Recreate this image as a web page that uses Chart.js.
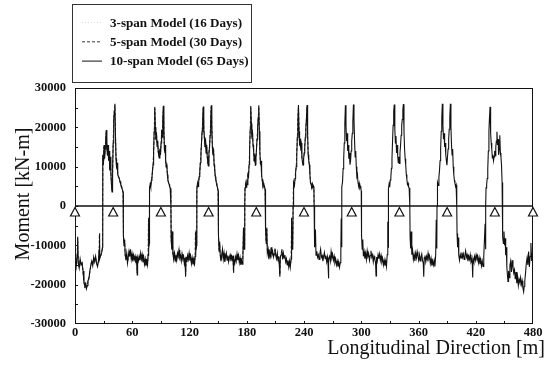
<!DOCTYPE html>
<html>
<head>
<meta charset="utf-8">
<script src="https://cdn.jsdelivr.net/npm/chart.js@4.4.1/dist/chart.umd.min.js"></script>
<style>
  html, body { margin: 0; padding: 0; background: #fff; }
  canvas { display: block; }
</style>
</head>
<body>
<canvas id="moment" width="557" height="369"></canvas>
<script>
/* Moment distribution along the deck, 10 spans (480 m).
   Three models overlaid; supports marked with triangles. */

const LABELS = ['3-span Model (16 Days)', '5-span Model (30 Days)', '10-span Model (65 Days)'];
const SUPPORTS = [0, 40, 90, 140, 190, 240, 290, 340, 390, 440, 480];

// stations along the deck [m]
const POS = [
  // 0 - 29
  0, 0.2, 1.2, 2.2, 2.8, 3.4, 4.4, 5.4, 6.4, 7.4, 8.4, 9.4, 10.4, 11.2, 12.0, 12.8, 13.6, 14.6, 15.6, 16.6,
  17.6, 18.6, 19.6, 20.6, 21.6, 22.6, 23.6, 24.6, 25.3, 25.6, 26.0, 27.0, 28.0, 28.8,
  // pier 40
  29.0, 29.2, 29.8, 30.4, 31.0, 31.6, 32.2, 32.8, 33.4, 34.0, 34.6, 35.2, 35.8, 36.4, 37.0, 37.6, 38.2, 38.8,
  39.4, 40.0, 40.6, 41.2, 41.8, 42.4, 43.0, 43.6, 44.2, 44.8, 45.6, 46.4, 47.2, 48.0, 48.8, 49.6, 50.4, 50.6,
  // span 40-90
  50.8, 51.4, 52.0, 52.6, 53.4, 54.2, 55.0, 55.8, 56.6, 57.4, 58.2, 59.0, 59.8, 60.6, 61.4, 62.2, 63.0, 63.8,
  64.6, 65.2, 65.6, 66.4, 67.2, 68.0, 68.8, 69.6, 70.4, 71.2, 72.0, 72.8, 73.6, 74.4, 75.2, 76.0, 76.6, 77.0, 77.4, 77.8,
  // pier 90
  78.0, 78.2, 78.8, 79.4, 80.0, 80.6, 81.2, 81.8, 82.4, 83.0, 83.6, 84.2, 84.8, 85.4, 86.0, 86.6, 87.2, 87.8,
  88.4, 89.0, 89.6, 90.2, 90.8, 91.4, 92.0, 92.6, 93.2, 93.8, 94.4, 95.0, 95.6, 96.2, 96.8, 97.4, 98.0, 98.6,
  99.2, 99.8, 100.4, 100.6,
  // span 90-140
  100.8, 101.4, 102.0, 102.6, 103.4, 104.2, 105.0, 105.8, 106.6, 107.4, 108.2, 109.0, 109.8, 110.6, 111.4,
  112.2, 113.0, 113.8, 114.6, 115.4, 115.9, 116.4, 117.2, 118.0, 118.8, 119.6, 120.4, 121.2, 122.0, 122.8,
  123.6, 124.4, 125.2, 125.8, 126.2, 126.8, 127.4,
  // pier 140
  127.6, 127.8, 128.4, 129.0, 129.6, 130.2, 130.8, 131.4, 132.0, 132.6, 133.2, 133.8, 134.4, 135.0, 135.6,
  136.2, 136.8, 137.4, 138.0, 138.6, 139.2, 139.8, 140.4, 141.0, 141.6, 142.2, 142.8, 143.4, 144.0, 144.6,
  145.2, 145.8, 146.4, 147.0, 147.6, 148.2, 148.8, 149.4, 150.0, 150.2,
  // span 140-190
  150.4, 151.0, 151.6, 152.2, 153.0, 153.8, 154.6, 155.4, 156.2, 157.0, 157.8, 158.6, 159.4, 160.2, 161.0,
  161.8, 162.6, 163.4, 164.2, 165.0, 165.6, 166.0, 166.6, 167.4, 168.2, 169.0, 169.8, 170.6, 171.4, 172.2,
  173.0, 173.8, 174.6, 175.4, 176.0, 176.6, 177.2, 177.8,
  // pier 190
  178.0, 178.2, 178.8, 179.4, 180.0, 180.6, 181.2, 181.8, 182.4, 183.0, 183.6, 184.2, 184.8, 185.4, 186.0,
  186.6, 187.2, 187.8, 188.4, 189.0, 189.6, 190.2, 190.8, 191.4, 192.0, 192.6, 193.2, 193.8, 194.4, 195.0,
  195.6, 196.2, 196.8, 197.4, 198.0, 198.6, 199.2, 199.6,
  // span 190-240
  199.8, 200.4, 201.0, 201.6, 202.4, 203.2, 204.0, 204.8, 205.6, 206.4, 207.2, 208.0, 208.8, 209.6, 210.4,
  211.2, 212.0, 212.8, 213.6, 214.2, 214.7, 215.2, 216.0, 216.8, 217.6, 218.4, 219.2, 220.0, 220.8, 221.6,
  222.4, 223.2, 224.0, 224.8, 225.6, 226.4, 227.0, 227.6, 228.2,
  // pier 240
  228.6, 228.8, 229.4, 230.0, 230.6, 231.2, 231.8, 232.4, 233.0, 233.6, 234.2, 234.8, 235.4, 236.0, 236.6,
  237.2, 237.8, 238.4, 239.0, 239.6, 240.2, 240.8, 241.4, 242.0, 242.6, 243.2, 243.8, 244.4, 245.0, 245.6,
  246.2, 246.8, 247.4, 248.0, 248.6, 249.2, 249.8, 250.4, 250.6,
  // span 240-290
  250.8, 251.4, 252.0, 252.6, 253.4, 254.2, 255.0, 255.8, 256.6, 257.4, 258.2, 259.0, 259.8, 260.6, 261.4,
  262.2, 263.0, 263.8, 264.6, 265.2, 265.6, 266.0, 266.8, 267.6, 268.4, 269.2, 270.0, 270.8, 271.6, 272.4,
  273.2, 274.0, 274.8, 275.6, 276.4, 277.2, 278.0, 278.6, 279.0, 279.4,
  // pier 290
  279.6, 279.8, 280.4, 281.0, 281.6, 282.2, 282.8, 283.4, 284.0, 284.6, 285.2, 285.8, 286.4, 287.0, 287.6,
  288.2, 288.8, 289.4, 290.0, 290.6, 291.2, 291.8, 292.4, 293.0, 293.6, 294.2, 294.8, 295.4, 296.0, 296.6,
  297.2, 297.8, 298.4, 299.0, 299.6, 300.0, 300.2,
  // span 290-340
  300.4, 301.0, 301.6, 302.2, 303.0, 303.8, 304.6, 305.4, 306.2, 307.0, 307.8, 308.6, 309.4, 310.2, 311.0,
  311.8, 312.6, 313.4, 314.2, 315.0, 315.5, 316.0, 316.8, 317.6, 318.4, 319.2, 320.0, 320.8, 321.6, 322.4,
  323.2, 324.0, 324.8, 325.6, 326.4, 327.2, 327.8, 328.2,
  // pier 340
  328.4, 328.6, 329.2, 329.8, 330.4, 331.0, 331.6, 332.2, 332.8, 333.4, 334.0, 334.6, 335.2, 335.8, 336.4,
  337.0, 337.6, 338.2, 338.8, 339.4, 340.0, 340.6, 341.2, 341.8, 342.4, 343.0, 343.6, 344.2, 344.8, 345.4,
  346.0, 346.6, 347.2, 347.8, 348.4, 349.0, 349.6, 350.2, 350.8, 351.0,
  // span 340-390
  351.2, 351.8, 352.4, 353.0, 353.8, 354.6, 355.4, 356.2, 357.0, 357.8, 358.6, 359.4, 360.2, 361.0, 361.8,
  362.6, 363.4, 364.2, 365.0, 365.5, 366.0, 366.8, 367.6, 368.4, 369.2, 370.0, 370.8, 371.6, 372.4, 373.2,
  374.0, 374.8, 375.6, 376.4, 377.2, 378.0, 378.6, 379.2,
  // pier 390
  379.4, 379.6, 380.2, 380.8, 381.4, 382.0, 382.6, 383.2, 383.8, 384.4, 385.0, 385.6, 386.2, 386.8, 387.4,
  388.0, 388.6, 389.2, 389.8, 390.4, 391.0, 391.6, 392.2, 392.8, 393.4, 394.0, 394.6, 395.2, 395.8, 396.4,
  397.0, 397.6, 398.2, 398.8, 399.4, 400.0, 400.2,
  // span 390-440
  400.4, 401.0, 401.6, 402.2, 403.0, 403.8, 404.6, 405.4, 406.2, 407.0, 407.8, 408.6, 409.4, 410.2, 411.0,
  411.8, 412.6, 413.4, 414.2, 415.0, 415.8, 416.4, 416.8, 417.2, 418.0, 418.8, 419.6, 420.4, 421.2, 422.0,
  422.8, 423.6, 424.4, 425.2, 426.0, 426.8, 427.6, 428.4, 429.2, 429.8, 430.2,
  // pier 440
  430.6, 430.8, 431.4, 432.0, 432.6, 433.2, 433.8, 434.4, 435.0, 435.6, 436.2, 436.8, 437.4, 438.0, 438.6,
  439.2, 439.8, 440.4, 441.0, 441.6, 442.2, 442.8, 443.4, 444.0, 444.6, 445.2, 445.8, 446.4, 447.0, 447.6,
  448.0, 448.2,
  // 448 - 480
  448.4, 449.0, 449.6, 450.2, 450.8, 451.4, 452.0, 452.6, 453.2, 453.8, 454.4, 455.0, 455.8, 456.6, 457.4,
  458.2, 459.0, 459.8, 460.6, 461.4, 462.2, 463.0, 463.8, 464.6, 465.4, 466.2, 467.0, 467.8, 468.6, 469.4,
  470.2, 470.8, 471.4, 472.2, 473.0, 473.8, 474.6, 475.4, 476.2, 477.0, 477.8, 478.6, 479.4, 479.8, 480.0
];

// 10-span model moment [kN-m] at POS
const M10 = [
  0, -14000, -15500, -12500, -7800, -14500, -15800, -13500, -15000, -14500, -16500, -19500, -20500, -19800,
  -21000, -20200, -19000, -18500, -16500, -15000, -14000, -15200, -13000, -14200, -12800, -14600, -15400,
  -14000, -11000, -6900, -13500, -12500, -11800, -10500,

  0, 13000, 10500, 15500, 12000, 14500, 17000, 19300, 15000, 13000, 15500, 11500, 14000, 9000, 12500, 8500,
  5500, 3600, 9000, 16000, 22000, 24000, 26000, 18000, 12000, 9500, 11000, 8000, 7500, 7000, 6200, 5400,
  5000, 4200, 3500, 0,

  -7500, -10000, -8500, -12500, -13500, -12000, -14500, -13000, -11500, -12800, -11000, -13500, -12200,
  -14000, -12500, -13600, -12800, -14500, -13500, -17500, -13200, -14000, -12800, -13800, -12000, -13500,
  -12400, -14200, -13000, -14800, -13500, -15200, -14000, -15000, -12500, -3000, -10500, -9500,

  0, 4500, 5500, 4800, 6500, 7000, 9000, 10500, 14000, 19000, 25200, 20000, 17000, 18500, 15500, 16500,
  14000, 12800, 12200, 14500, 13000, 16000, 19300, 17500, 22000, 25500, 19000, 14000, 15500, 11500, 10000,
  10800, 8000, 6500, 6000, 5500, 5000, 4500, 4000, 0,

  -8500, -11000, -6500, -12000, -13500, -11500, -14000, -12500, -13800, -12000, -12800, -11200, -13200,
  -12600, -14000, -12200, -13400, -12800, -14600, -13200, -18000, -13000, -14200, -12600, -13600, -12000,
  -13800, -12800, -14600, -13200, -14800, -13600, -15200, -12800, -6500, -11500, -10000,

  0, 4200, 5800, 5000, 6200, 7500, 8800, 11000, 13500, 16000, 19000, 21500, 25300, 19500, 17500, 15000,
  17000, 13500, 15500, 12500, 11000, 10200, 13500, 15000, 18000, 21500, 25600, 20000, 15000, 13000, 14500,
  10500, 9500, 7500, 6800, 5800, 5200, 4600, 3800, 0,

  -7000, -11500, -9000, -12500, -14000, -12500, -11000, -13500, -12000, -14200, -13000, -12000, -13800,
  -12600, -14200, -13000, -12400, -14000, -12800, -13600, -12600, -17000, -13400, -14600, -13000, -14000,
  -12200, -13800, -12600, -14400, -13200, -15000, -13800, -14800, -12200, -5500, -11000, -9500,

  0, 4600, 5500, 4800, 6000, 5400, 8500, 7000, 10500, 14500, 19500, 25400, 21000, 17500, 19000, 15500,
  14000, 11500, 13000, 10500, 12000, 14500, 17000, 19800, 22500, 25600, 19000, 13500, 10500, 11500, 7500,
  6800, 5200, 5800, 4800, 5000, 4200, 0,

  -6000, -9500, -5500, -12000, -11000, -13500, -11800, -12800, -10500, -12400, -11600, -13000, -12200,
  -10800, -12600, -13400, -12000, -14000, -12800, -15400, -18000, -13000, -12400, -11000, -13600, -12000,
  -13200, -12500, -14200, -13400, -15000, -13800, -15500, -14000, -15600, -13500, -3000, -11000, -10000,

  0, 4600, 6000, 5200, 7000, 8500, 10000, 13000, 17500, 22000, 25700, 19000, 15500, 17000, 14500, 16000,
  12500, 11000, 10500, 12000, 13500, 15000, 17500, 20000, 22500, 25700, 18000, 13000, 11500, 10500, 8000,
  6000, 5500, 5000, 5600, 4800, 5000, 4400, 0,

  -8000, -10500, -6000, -12500, -11500, -13000, -12400, -13600, -12200, -11000, -13000, -12600, -14000,
  -12800, -11800, -13400, -12600, -14200, -13000, -14800, -18400, -13400, -12800, -14000, -11600, -13200,
  -12400, -13800, -12800, -14400, -13600, -15000, -14000, -15400, -14200, -15600, -14400, -12000, -3200, -10500,

  0, 4800, 6200, 9500, 12000, 16000, 21000, 25600, 20500, 16500, 18500, 14000, 15500, 12000, 13500, 10500,
  11500, 14000, 16500, 18500, 21500, 25800, 22000, 16500, 12500, 14000, 10000, 7500, 8000, 6000, 5200,
  5800, 4600, 5000, 4400, 3800, 0,

  -7500, -11000, -8500, -12800, -11600, -13400, -12000, -13600, -11400, -12800, -12200, -13800, -12600,
  -11400, -13000, -12400, -14200, -12800, -13600, -14400, -17800, -13000, -14000, -12400, -13400, -12200,
  -13800, -12600, -14200, -13400, -15000, -13800, -15200, -14000, -15400, -12400, -4000, -10500,

  0, 4400, 5600, 4800, 6600, 7200, 9600, 12000, 16500, 20500, 24000, 25800, 19500, 16000, 17800, 13500,
  15500, 12800, 11000, 12500, 10800, 13500, 15500, 18000, 20500, 22000, 24500, 25900, 19000, 14500, 12000,
  10500, 8000, 6800, 5500, 5800, 4800, 4600, 4000, 0,

  -8000, -10800, -6500, -12400, -11200, -13600, -12400, -14000, -12000, -13200, -11600, -12800, -13800,
  -12400, -14000, -13000, -12200, -13800, -14600, -18000, -13200, -12600, -14200, -12800, -13600, -12000,
  -13400, -12800, -14600, -13400, -15200, -14000, -15000, -13800, -15400, -12600, -3500, -10800,

  0, 4600, 6000, 5200, 7400, 9000, 11500, 14500, 19000, 22500, 26000, 20500, 17000, 18500, 15000, 16000,
  13000, 11500, 10400, 12500, 14500, 17000, 19500, 22500, 26000, 20000, 15500, 13000, 14500, 10000, 8000,
  6500, 5800, 5000, 5400, 4200, 0,

  -7000, -10500, -8000, -12500, -13800, -12400, -13200, -11800, -13000, -12200, -13600, -12600, -11400,
  -13000, -12400, -14000, -12800, -13600, -12400, -14200, -13600, -14800, -18200, -13400, -14200, -12800,
  -13800, -12400, -13200, -12600, -14400, -13200, -14800, -13600, -15200, -14000, -15400, -12800, -8000,
  -4500, -11000,

  0, 4600, 5400, 7000, 9500, 14000, 19000, 22500, 25200, 18500, 16000, 14500, 12200, 13000, 11500, 12500,
  14000, 12800, 15000, 16500, 18900, 15500, 17000, 13000, 14500, 18000, 13500, 12500, 10500, 6000, 4600, 0,

  -7800, -9500, -6500, -10000, -8200, -12500, -10500, -15500, -17500, -19200, -16500, -18200, -15000,
  -14000, -16800, -13800, -15500, -17000, -16200, -18600, -16800, -19600, -18000, -20200, -18600, -19400,
  -18200, -20000, -19000, -20800, -21800, -20400, -19000, -17000, -14500, -13200, -15000, -11600, -15500,
  -12800, -9400, -14000, -12000, -13500, 0
];

// 5-span model (0 - 250 m) at POS
const M5 = [
  0, -13800, -15200, -12800, -8200, -14800, -15500, -13800, -14800, -14200, -16800, -19200, -20800, -19500,
  -20800, -20500, -18800, -18200, -16800, -15200, -13800, -15000, -13200, -14000, -13000, -14400, -15200,
  -14200, -11200, -7200, -13200, -12800, -11600, -10800,

  0, 12600, 11000, 15000, 12400, 14200, 17400, 19000, 15400, 12800, 15000, 12000, 13600, 9400, 12000, 8800,
  5800, 4000, 8600, 15500, 21500, 24400, 25600, 18500, 12400, 9800, 10600, 8200, 7200, 7200, 6000, 5600,
  4800, 4400, 3400, 0,

  -7800, -9600, -8800, -12200, -13800, -12400, -14200, -13200, -11800, -12600, -11400, -13200, -12400,
  -13800, -12800, -13400, -13000, -14200, -13800, -17000, -13400, -13800, -13000, -13600, -12200, -13200,
  -12600, -14000, -13200, -14600, -13800, -15000, -14200, -14800, -12800, -3600, -10200, -9800,

  0, 4200, 5800, 5000, 6200, 7400, 8600, 11000, 13500, 18500, 24800, 20500, 16600, 18800, 15000, 16800,
  13600, 13200, 12000, 14200, 13400, 15600, 19000, 17800, 21500, 25100, 19400, 13600, 15000, 11800, 9800,
  10400, 8200, 6800, 5800, 5600, 4800, 4600, 3800, 0,

  -8200, -10600, -7000, -12400, -13200, -11800, -13600, -12800, -13500, -12300, -12500, -11500, -13000,
  -12900, -13700, -12500, -13100, -13100, -14300, -13500, -17500, -13300, -13900, -12900, -13300, -12300,
  -13500, -13100, -14300, -13500, -14500, -13900, -14900, -13100, -7000, -11200, -10300,

  0, 4500, 5500, 5300, 6000, 7800, 8500, 11400, 13100, 16400, 18600, 21900, 24900, 19900, 17100, 15400,
  16600, 13900, 15100, 12900, 10700, 10500, 13200, 15300, 17700, 21800, 25200, 20400, 14700, 13300, 14200,
  10800, 9200, 7700, 6600, 6000, 5000, 4800, 3600, 0,

  -7300, -11100, -9400, -12200, -13700, -12800, -11300, -13200, -12300, -13900, -13300, -12300, -13500,
  -12900, -13900, -13300, -12700, -13700, -13100, -13300, -12900, -16600, -13700, -14300, -13300, -13700,
  -12500, -13500, -12900, -14100, -13500, -14700, -14100, -14500, -12500, -6000, -10700, -9800,

  0, 4300, 5800, 5100, 5700, 5700, 8200, 7400, 10100, 14100, 19100, 25000, 21400, 17100, 19400, 15100,
  14400, 11100, 13400, 10200, 12300, 14100, 17300, 19400, 22100, 25200, 19400, 13100, 10800, 11200, 7800,
  6500, 5500, 5500, 5000, 4800, 4400, 0,

  -6400, -9100, -6000, -11700, -11300, -13200, -12100, -12500, -10800, -12100, -11900, -12700, -12500,
  -11100, -12300, -13100, -12300, -13700, -13100, -15100, -17500, -13300, -12100, -11300, -13300, -12300,
  -12900, -12800, -13900, -13700, -14700, -14100, -15200, -14300, -15300, -13800, -3600, -10700, -10300,

  0, 4300, 6300, 5500, 6700, 8800, 9700, 13400, 17100, 21600, 25300, 19400, 15100, 17400, 14100, 16400,
  12100, 11400, 10200, 12300, 13200, 15300, 17100, 20400, 22100, 25300, 18400, 12600, 11800, 10200, 8300,
  5700, 5800, 4700, 5900, 4500, 5300, 4100, 0
];

// 3-span model (0 - 150 m) at POS
const M3 = [
  0, -14200, -15000, -13000, -8500, -14200, -15600, -13800, -14600, -14800, -16200, -19000, -20200, -20000,
  -20600, -20000, -19200, -18000, -16200, -15400, -14200, -14800, -13400, -14400, -13000, -14800, -15000,
  -13800, -11400, -7500, -13000, -12600, -12000, -10200,

  0, 12800, 10800, 15200, 11600, 14800, 16600, 18800, 15200, 13400, 15200, 11800, 14200, 9200, 12200, 8200,
  5600, 3800, 9400, 16400, 21800, 23600, 25400, 17600, 12200, 9200, 11200, 7800, 7600, 6800, 6400, 5200,
  5200, 4000, 3600, 0,

  -7200, -10400, -8200, -12800, -13200, -12200, -14800, -12800, -11200, -13000, -11200, -13800, -12000,
  -14200, -12200, -13800, -12600, -14800, -13200, -17200, -13000, -14200, -12600, -14000, -11800, -13800,
  -12200, -14400, -12800, -15000, -13200, -15400, -13800, -15200, -12200, -3400, -10800, -9200,

  0, 4800, 5200, 4600, 6800, 6800, 9400, 10200, 14400, 19400, 24600, 19600, 17400, 18200, 15800, 16200,
  14400, 12600, 12600, 14800, 12800, 16400, 19600, 17200, 22400, 24900, 18600, 14400, 15200, 11200, 10200,
  11000, 7800, 6400, 6200, 5400, 5200, 4400, 4200, 0,

  -8800, -11400, -6200, -11700, -13800, -11200, -14300, -12200, -14100, -11700, -13100, -10900, -13500,
  -12300, -14300, -11900, -13700, -12500, -14900, -12900, -17600, -12700, -14500, -12300, -13900, -11700,
  -14100, -12500, -14900, -12900, -15100, -13300, -15500, -12500, -6000, -11800, -9700,

  0, 3900, 6100, 4700, 6500, 7200, 9100, 10700, 13800, 15700, 19300, 21200, 24700, 19200, 17800, 14700,
  17300, 13200, 15800, 12200, 11300, 9900, 13800, 14700, 18300, 21200, 24800, 19700, 15300, 12700, 14800,
  10200, 9800, 7300, 7000, 5600, 5400, 4400, 4000, 0
];

const SERIF = '"Liberation Serif", "Times New Roman", serif';
const INK = '#111';

const toPoints = ys => ys.map((y, i) => ({ x: POS[i], y }));

// frame, zero line, inward ticks, supports, legend box and axis titles
const decor = {
  id: 'decor',
  beforeDatasetsDraw(chart) {
    const { ctx, chartArea: a, scales: { x, y } } = chart;
    ctx.save();
    ctx.strokeStyle = INK;
    ctx.lineWidth = 1;
    ctx.strokeRect(a.left + 0.5, a.top + 0.5, a.right - a.left - 1, a.bottom - a.top - 1);

    ctx.beginPath();
    for (let v = 30; v < 480; v += 30) {
      const px = Math.round(x.getPixelForValue(v)) + 0.5;
      ctx.moveTo(px, a.bottom); ctx.lineTo(px, a.bottom - 3);
    }
    for (let v = -25000; v < 30000; v += 5000) {
      const py = Math.round(y.getPixelForValue(v)) + 0.5;
      ctx.moveTo(a.left, py); ctx.lineTo(a.left + 3, py);
    }
    ctx.stroke();

    const y0 = y.getPixelForValue(0);
    ctx.lineWidth = 1.5;
    ctx.beginPath();
    ctx.moveTo(a.left, y0); ctx.lineTo(a.right, y0);
    ctx.stroke();
    ctx.restore();
  },
  afterDatasetsDraw(chart) {
    const { ctx, scales: { x, y } } = chart;
    const y0 = y.getPixelForValue(0);
    ctx.save();
    ctx.fillStyle = '#fff';
    ctx.strokeStyle = INK;
    ctx.lineWidth = 1.2;
    SUPPORTS.forEach(s => {
      const px = x.getPixelForValue(s);
      ctx.beginPath();
      ctx.moveTo(px, y0 + 1.5);
      ctx.lineTo(px - 4.5, y0 + 10);
      ctx.lineTo(px + 4.5, y0 + 10);
      ctx.closePath();
      ctx.fill(); ctx.stroke();
    });

    // legend
    ctx.lineWidth = 1;
    ctx.strokeStyle = '#333';
    ctx.strokeRect(72.5, 4.5, 179, 78);
    ctx.font = 'bold 13.1px ' + SERIF;
    ctx.textBaseline = 'alphabetic';
    ctx.textAlign = 'left';
    chart.data.datasets.forEach((ds, i) => {
      const by = 26.5 + i * 19.3;
      ctx.strokeStyle = i === 0 ? '#d8d8d8' : ds.borderColor;
      ctx.setLineDash(ds.borderDash || []);
      ctx.beginPath();
      ctx.moveTo(82, by - 4); ctx.lineTo(102, by - 4);
      ctx.stroke();
      ctx.setLineDash([]);
      ctx.fillStyle = INK;
      ctx.fillText(ds.label, 110, by);
    });

    // axis titles
    ctx.font = '20px ' + SERIF;
    ctx.fillStyle = INK;
    ctx.textAlign = 'right';
    ctx.fillText('Longitudinal Direction [m]', 545, 354);
    ctx.translate(29, 194);
    ctx.rotate(-Math.PI / 2);
    ctx.textAlign = 'center';
    ctx.fillText('Moment [kN-m]', 0, 0);
    ctx.restore();
  }
};

new Chart(document.getElementById('moment'), {
  type: 'line',
  data: {
    datasets: [
      { label: LABELS[0], data: toPoints(M3), borderColor: '#8a8a8a', borderWidth: 1, borderDash: [1, 2], order: 2 },
      { label: LABELS[1], data: toPoints(M5), borderColor: '#3a3a3a', borderWidth: 1, borderDash: [3, 2], order: 1 },
      { label: LABELS[2], data: toPoints(M10), borderColor: INK, borderWidth: 1.1, order: 0 }
    ]
  },
  options: {
    responsive: false,
    animation: false,
    parsing: false,
    normalized: true,
    elements: { point: { radius: 0 }, line: { tension: 0 } },
    layout: { padding: { top: 88, right: 24, left: 0, bottom: 0 } },
    plugins: { legend: { display: false }, tooltip: { enabled: false } },
    scales: {
      x: {
        type: 'linear', min: 0, max: 480,
        afterFit: s => { s.height = 45; },
        ticks: { stepSize: 60, padding: 1, maxRotation: 0, color: INK,
                 font: { family: SERIF, size: 12.5, weight: 'bold' }, callback: v => String(v) },
        grid: { display: false, drawTicks: false },
        border: { display: false }
      },
      y: {
        min: -30000, max: 30000,
        afterFit: s => { s.width = 75; },
        ticks: { stepSize: 10000, padding: 9, color: INK,
                 font: { family: SERIF, size: 12.5, weight: 'bold' }, callback: v => String(v) },
        grid: { display: false, drawTicks: false },
        border: { display: false }
      }
    }
  },
  plugins: [decor]
});
</script>
</body>
</html>
